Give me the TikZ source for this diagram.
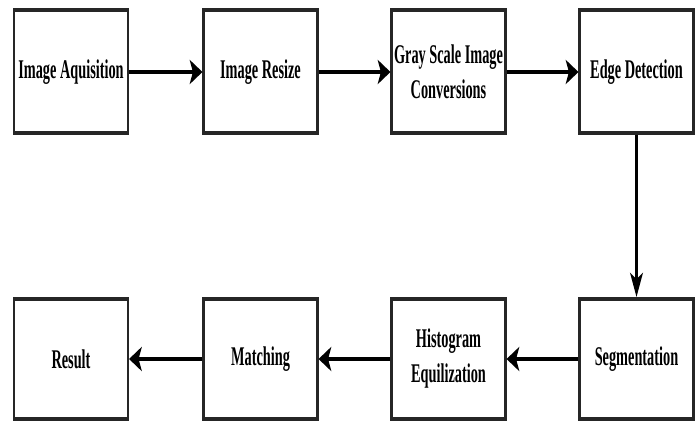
\documentclass[tikz,border=0pt]{standalone}
\usepackage{fontspec}
\newfontfamily\boxfont{Liberation Serif}
\usetikzlibrary{arrows.meta}
\begin{document}
\begin{tikzpicture}[x=1pt,y=-1pt,
  stage/.style={draw=black!85,line width=4pt,fill=white,inner sep=0pt,
    minimum width=215pt,align=center,
    font=\boxfont\bfseries\fontsize{27}{35}\selectfont},
  toprow/.style={stage,minimum height=123pt},
  botrow/.style={stage,minimum height=120pt},
  flow/.style={line width=4pt,-{Stealth[length=24pt,width=24pt,inset=6pt]}}]
\useasboundingbox (0,0) rectangle (699,422);
\begin{scope}[transform canvas={xscale=0.53},x=1.88679pt]
\node[toprow] (a) at (71,72) {Image Aquisition};
\node[toprow] (b) at (260.5,72) {Image Resize};
\node[toprow] (c) at (448.5,72) {Gray Scale Image\\Conversions};
\node[toprow] (d) at (636.5,72) {Edge Detection};
\node[botrow] (e) at (636.5,359) {Segmentation};
\node[botrow] (f) at (448.5,359) {Histogram\\Equilization};
\node[botrow] (g) at (260.5,359) {Matching};
\node[botrow] (h) at (71,359) {Result};
\draw[flow] (a) -- (b);
\draw[flow] (b) -- (c);
\draw[flow] (c) -- (d);
\draw[flow] (d) -- (e);
\draw[flow] (e) -- (f);
\draw[flow] (f) -- (g);
\draw[flow] (g) -- (h);
\end{scope}
\end{tikzpicture}
\end{document}
